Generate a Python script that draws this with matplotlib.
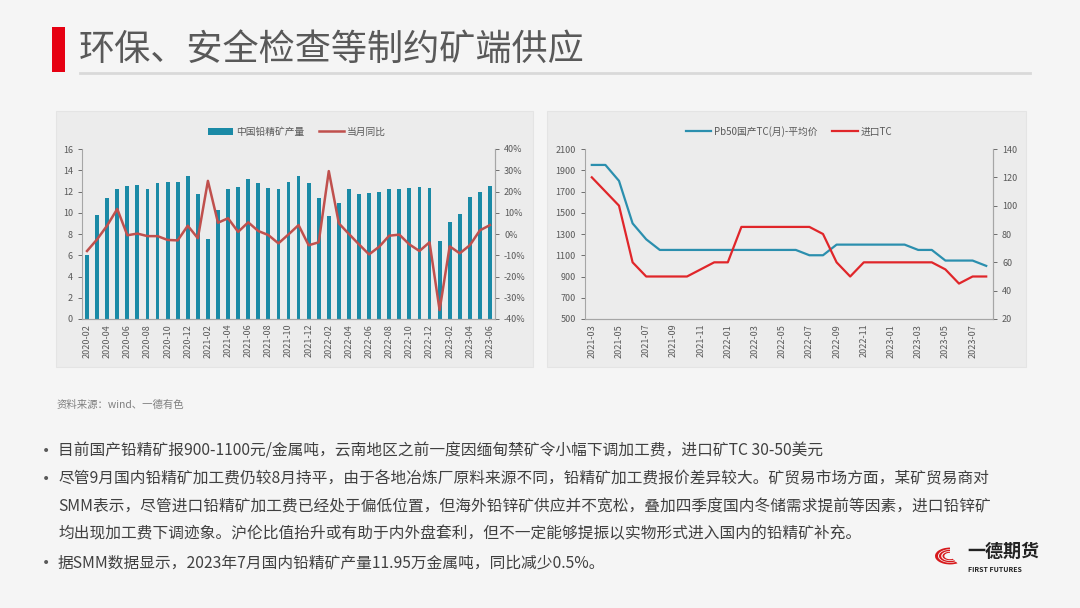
import matplotlib
matplotlib.use("Agg")
import matplotlib.pyplot as plt
from matplotlib.patches import Rectangle, Wedge
from matplotlib.lines import Line2D
from matplotlib.ticker import FuncFormatter

plt.rcParams['font.family'] = ['Noto Sans CJK SC', 'DejaVu Sans']

# ---------------- data ----------------
months_left = [f"{y}-{m:02d}" for y, m in
               [(2020, m) for m in range(2, 13)] + [(2021, m) for m in range(1, 13)] +
               [(2022, m) for m in range(1, 13)] + [(2023, m) for m in range(1, 7)]]
output_vals = [6.0, 9.8, 11.4, 12.2, 12.5, 12.6, 12.2, 12.8, 12.9, 12.9, 13.5,
               11.8, 7.5, 10.3, 12.2, 12.4, 13.2, 12.8, 12.3, 12.2, 12.9, 13.5, 12.8,
               11.4, 9.7, 10.9, 12.2, 11.8, 11.9, 12.0, 12.2, 12.2, 12.3, 12.4, 12.3,
               7.3, 9.1, 9.9, 11.5, 12.0, 12.5]
yoy_vals = [-8.0, -2.5, 4.0, 11.8, -0.6, 0.2, -1.0, -1.0, -2.8, -3.0, 3.9,
            -2.0, 25.0, 5.3, 7.4, 1.0, 5.5, 1.4, -0.5, -4.4, -0.2, 4.2, -5.3,
            -3.9, 29.6, 5.0, 0.0, -4.9, -9.6, -6.0, -0.8, -0.3, -4.9, -8.0, -3.9,
            -35.8, -5.8, -9.1, -5.3, 1.7, 4.2]

months_right = [f"{y}-{m:02d}" for y, m in
                [(2021, m) for m in range(3, 13)] + [(2022, m) for m in range(1, 13)] +
                [(2023, m) for m in range(1, 9)]]
domestic_tc = [1950, 1950, 1800, 1400, 1250, 1150, 1150, 1150, 1150, 1150,
               1150, 1150, 1150, 1150, 1150, 1150, 1100, 1100, 1200, 1200,
               1200, 1200, 1200, 1200, 1150, 1150, 1050, 1050, 1050, 1000]
import_tc = [120, 110, 100, 60, 50, 50, 50, 50, 55, 60,
             60, 85, 85, 85, 85, 85, 85, 80, 60, 50,
             60, 60, 60, 60, 60, 60, 55, 45, 50, 50]

title = "环保、安全检查等制约矿端供应"
source = "资料来源：wind、一德有色"
bullet_lines = [
    ("目前国产铅精矿报900-1100元/金属吨，云南地区之前一度因缅甸禁矿令小幅下调加工费，进口矿TC 30-50美元", True),
    ("尽管9月国内铅精矿加工费仍较8月持平，由于各地冶炼厂原料来源不同，铅精矿加工费报价差异较大。矿贸易市场方面，某矿贸易商对", True),
    ("SMM表示，尽管进口铅精矿加工费已经处于偏低位置，但海外铅锌矿供应并不宽松，叠加四季度国内冬储需求提前等因素，进口铅锌矿", False),
    ("均出现加工费下调迹象。沪伦比值抬升或有助于内外盘套利，但不一定能够提振以实物形式进入国内的铅精矿补充。", False),
    ("据SMM数据显示，2023年7月国内铅精矿产量11.95万金属吨，同比减少0.5%。", True),
]

# ---------------- figure ----------------
W, H = 1080, 608
BG = "#f5f5f5"
PANEL = "#ececec"
TXT = "#595959"
AX = "#a6a6a6"
fig = plt.figure(figsize=(W / 100, H / 100), dpi=100, facecolor=BG)

def fx(x): return x / W
def fy(y): return 1 - y / H

# title
fig.patches.append(Rectangle((fx(52), fy(72)), fx(13), 45 / H, transform=fig.transFigure,
                             facecolor="#e60012", edgecolor="none", zorder=-5))
fig.text(fx(79), fy(50), title, fontsize=26, color="#595959", va="center", ha="left")
fig.add_artist(Line2D([fx(80), fx(1030)], [fy(73), fy(73)], transform=fig.transFigure,
                      color="#d9d9d9", lw=2, zorder=-5))

# panels
for x0, x1 in [(56, 533), (547, 1026)]:
    fig.patches.append(Rectangle((fx(x0), fy(367)), fx(x1 - x0), (367 - 111) / H,
                                 transform=fig.transFigure, facecolor=PANEL,
                                 edgecolor="#e4e4e4", lw=0.8, zorder=-10))

def style_axes(ax):
    ax.patch.set_alpha(0)
    ax.spines["top"].set_visible(False)
    for s in ["left", "right", "bottom"]:
        ax.spines[s].set_color(AX)
        ax.spines[s].set_linewidth(0.8)
    ax.tick_params(axis="both", colors=TXT, labelsize=6.5, length=3, width=0.6)
    ax.tick_params(axis="x", rotation=90, length=0)

# ---------- left chart ----------
axL = fig.add_axes([fx(82), fy(319), fx(413), 170 / H])
style_axes(axL)
xl = list(range(len(months_left)))
bars = axL.bar(xl, output_vals, width=0.38, color="#1a8aa6", label="中国铅精矿产量", zorder=2)
axL.set_ylim(0, 16)
axL.set_yticks(range(0, 17, 2))
axL.set_xlim(-0.5, len(months_left) - 0.5)
axL.set_xticks(xl[::2])
axL.set_xticklabels(months_left[::2])
axLr = axL.twinx()
style_axes(axLr)
axLr.spines["left"].set_visible(False)
lineL, = axLr.plot(xl, yoy_vals, color="#c0504d", lw=1.8, label="当月同比", zorder=3)
axLr.set_ylim(-40, 40)
axLr.set_yticks(range(-40, 41, 10))
axLr.yaxis.set_major_formatter(FuncFormatter(lambda v, p: f"{int(v)}%"))
axL.legend([bars, lineL], ["中国铅精矿产量", "当月同比"], loc="lower center",
           bbox_to_anchor=(0.52, 1.02), ncol=2, frameon=False, fontsize=7,
           labelcolor=TXT, handlelength=2.6, columnspacing=1.5, handletextpad=0.3)

# ---------- right chart ----------
axR = fig.add_axes([fx(585), fy(319), fx(408), 170 / H])
style_axes(axR)
xr = list(range(len(months_right)))
lineB, = axR.plot(xr, domestic_tc, color="#2b8fae", lw=1.6, label="Pb50国产TC(月)-平均价")
axR.set_ylim(500, 2100)
axR.set_yticks(range(500, 2101, 200))
axR.set_xlim(-0.5, len(months_right) - 0.5)
axR.set_xticks(xr[::2])
axR.set_xticklabels(months_right[::2])
axRr = axR.twinx()
style_axes(axRr)
axRr.spines["left"].set_visible(False)
lineR, = axRr.plot(xr, import_tc, color="#e0262a", lw=1.6, label="进口TC")
axRr.set_ylim(20, 140)
axRr.set_yticks(range(20, 141, 20))
axR.legend([lineB, lineR], ["Pb50国产TC(月)-平均价", "进口TC"], loc="lower center",
           bbox_to_anchor=(0.5, 1.02), ncol=2, frameon=False, fontsize=7,
           labelcolor=TXT, handlelength=2.6, columnspacing=1.5, handletextpad=0.3)

# ---------- text ----------
fig.text(fx(57), fy(405), source, fontsize=7.5, color="#7f7f7f", va="center", ha="left")
ys = [451, 479, 507, 534, 563]
for (t, has_bullet), y in zip(bullet_lines, ys):
    if has_bullet:
        fig.text(fx(46), fy(y), "•", fontsize=10, color=TXT, va="center", ha="center",
                 family="DejaVu Sans")
    fig.text(fx(58), fy(y), t, fontsize=11.3, color="#404040", va="center", ha="left")

# ---------- logo ----------
cx, cy = 950, 556
for r, w in [(15, 3.0), (11, 2.2), (7.5, 1.8)]:
    fig.patches.append(Wedge((fx(cx), fy(cy)), r / W, 90, 300, width=w / W,
                             transform=fig.transFigure, facecolor="#d7191c",
                             edgecolor="none"))
fig.text(fx(967), fy(551), "一德期货", fontsize=13, fontweight="bold", color="#222222",
         va="center", ha="left")
fig.text(fx(968), fy(569), "FIRST FUTURES", fontsize=5, fontweight="bold", color="#222222",
         va="center", ha="left")

fig.savefig("out.png", dpi=100, facecolor=BG)
